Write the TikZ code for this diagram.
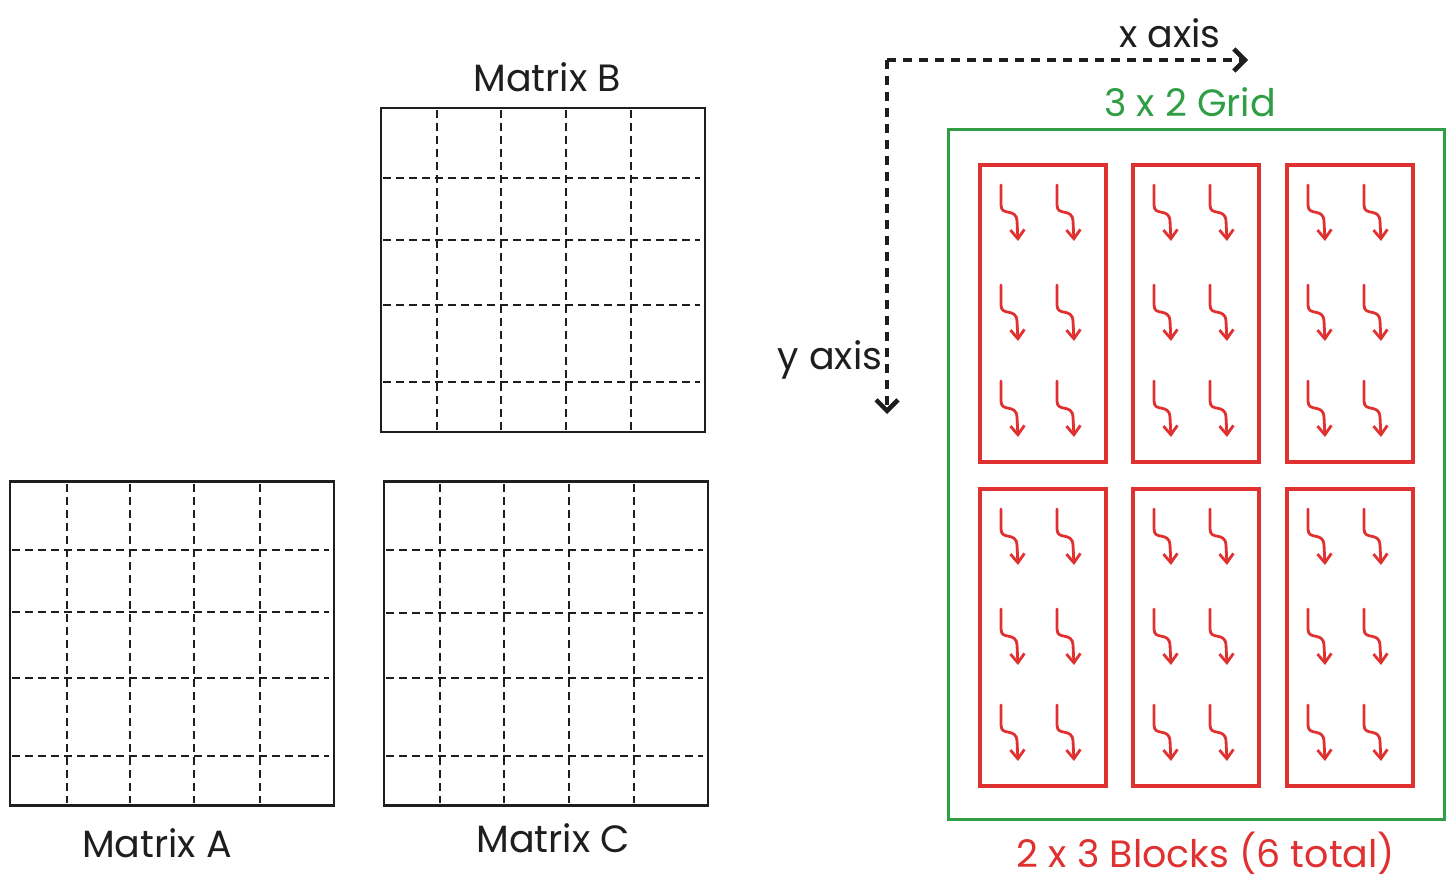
\documentclass[tikz,border=0pt]{standalone}
\usepackage{fontspec}
\setmainfont{Poppins}
\usetikzlibrary{arrows.meta}
\definecolor{ink}{HTML}{1E1E1E}
\definecolor{xred}{HTML}{E03131}
\definecolor{xgreen}{HTML}{2F9E44}
\tikzset{
  matbox/.style={draw=ink, line width=2.2pt, minimum width=324pt, minimum height=324pt, inner sep=0pt},
  griddash/.style={draw=ink, line width=2pt, dash pattern=on 8pt off 5pt},
  axisline/.style={draw=ink, line width=4.8pt, dash pattern=on 9pt off 7pt, -{Straight Barb[length=11pt,width=22pt,line width=4.5pt]}},
  gridbox/.style={draw=xgreen, line width=3pt, minimum width=496pt, minimum height=689pt, inner sep=0pt},
  blockbox/.style={draw=xred, line width=3.6pt, minimum width=126pt, minimum height=297pt, inner sep=0pt},
  lbl/.style={font=\fontsize{38}{42}\selectfont, text=ink},
  sqarrow/.style={draw=xred, line width=2.8pt, line cap=round, -{Straight Barb[length=9pt,width=14pt,line width=2.8pt]}},
  squig/.pic={\draw[sqarrow] (0,0) -- (0,20) .. controls (0,32) and (15,22) .. (16,36) -- (17,56);}
}
\begin{document}
\begin{tikzpicture}[x=1pt,y=-1pt]
\useasboundingbox (0,0) rectangle (1454,888);
% Matrix B
\node[matbox] (B) at (543,270) {};
\foreach \x in {437,501,566,631} \draw[griddash] (\x,110) -- (\x,430);
\foreach \y in {178,240,305,382} \draw[griddash] (383,\y) -- (700,\y);
\node[lbl] (lB) at (547,77) {Matrix B};
% Matrix A
\node[matbox] (A) at (172,643.5) {};
\foreach \x in {67,130,194,260} \draw[griddash] (\x,484) -- (\x,803);
\foreach \y in {550,612,678,756} \draw[griddash] (12,\y) -- (329,\y);
\node[lbl] (lA) at (157,843) {Matrix A};
% Matrix C
\node[matbox] (C) at (546,643.5) {};
\foreach \x in {440,504,569,634} \draw[griddash] (\x,484) -- (\x,803);
\foreach \y in {550,613,678,756} \draw[griddash] (386,\y) -- (703,\y);
\node[lbl] (lC) at (553,838) {Matrix C};
% axes
\coordinate (o) at (887,60);
\coordinate (xe) at (1248,60);
\coordinate (ye) at (887,414);
\draw[axisline] (o) -- (xe);
\draw[axisline] (o) -- (ye);
\node[lbl] (lx) at (1170,33) {x axis};
\node[lbl] (ly) at (830,360) {y axis};
% grid
\node[gridbox] (G) at (1196,474.5) {};
\node[lbl, text=xgreen] (lG) at (1190,102) {3 x 2 Grid};
\node[lbl, text=xred] (lR) at (1206,853) {2 x 3 Blocks (6 total)};
% blocks
\foreach \bx [count=\i] in {980,1133,1287} {
  \foreach \by [count=\j] in {165,489} {
    \node[blockbox] (blk\i\j) at (\bx+63,\by+148.5) {};
    \foreach \dy in {20,120,216} {
      \foreach \dx in {21,77} {
        \pic at (\bx+\dx,\by+\dy) {squig};
      }
    }
  }
}
\end{tikzpicture}
\end{document}
